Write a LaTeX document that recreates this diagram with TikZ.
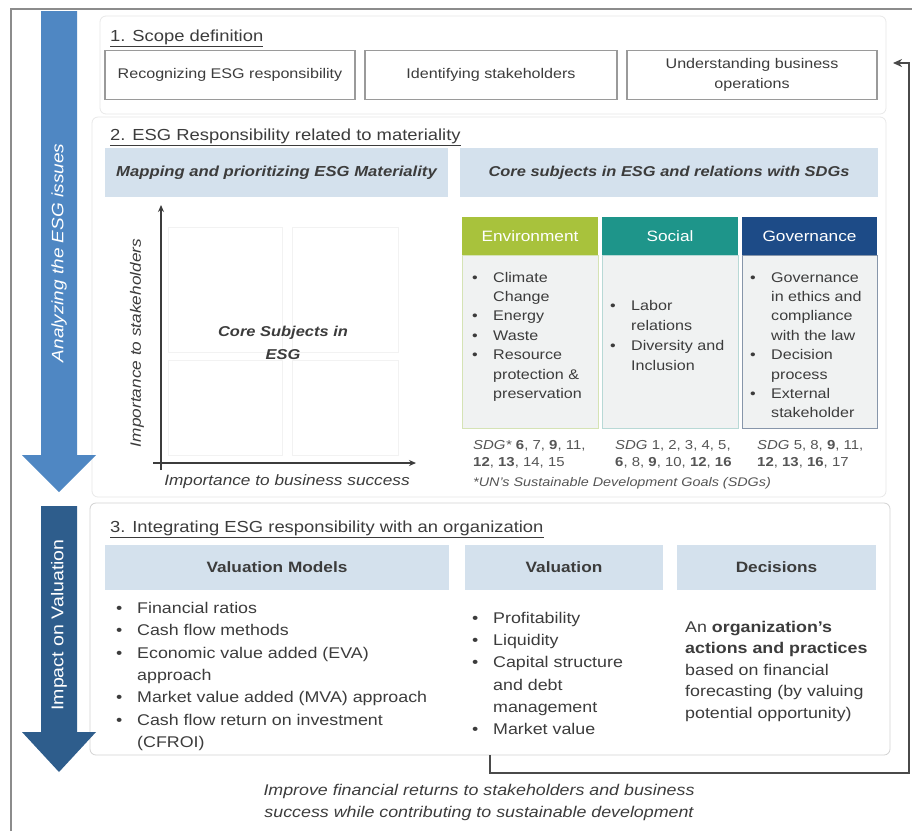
\documentclass[tikz,border=0pt]{standalone}
\usepackage{fontspec}
\setmainfont{Liberation Sans}[FakeStretch=1.15]
\usetikzlibrary{arrows.meta}
\definecolor{txt}{HTML}{3C3C3C}
\definecolor{sdgtxt}{HTML}{555555}
\definecolor{hdrblue}{HTML}{D4E1ED}
\definecolor{arrowA}{HTML}{4F87C3}
\definecolor{arrowB}{HTML}{2E5D8C}
\definecolor{envc}{HTML}{A8C23C}
\definecolor{socc}{HTML}{1E958A}
\definecolor{govc}{HTML}{1D4B87}
\definecolor{colfill}{HTML}{F0F2F2}
\definecolor{envborder}{HTML}{D5E3B5}
\definecolor{socborder}{HTML}{B8D9D6}
\definecolor{govborder}{HTML}{8796AA}
\definecolor{panelgray}{HTML}{E8E8E8}
\definecolor{panelgrayB}{HTML}{D2D2D2}
\definecolor{framegray}{HTML}{8C8C8C}
\definecolor{boxgray}{HTML}{9A9A9A}
\definecolor{conngray}{HTML}{4A4A4A}
\definecolor{quadgray}{HTML}{F2F2F2}
\newcommand{\bul}{\makebox[21pt][l]{\textbullet}}
\newcommand{\ind}{\hspace*{21pt}}
\tikzset{
  frameline/.style={draw=framegray, line width=1.6pt},
  panel/.style={draw=panelgray, line width=0.8pt, rounded corners=6pt, fill=white, inner sep=0pt},
  scopebox/.style={draw=boxgray, line width=1.2pt, fill=white, minimum height=49pt, inner sep=0pt,
    font=\fontsize{14}{20}\selectfont, text=txt, align=center},
  hdr/.style={fill=hdrblue, inner sep=0pt, text=txt},
  colhdr/.style={minimum width=136pt, minimum height=38pt, inner sep=0pt, text=white,
    font=\fontsize{15}{18}\selectfont},
  colbody/.style={fill=colfill, minimum width=136pt, minimum height=173pt, inner sep=0pt, line width=1pt},
  lst/.style={inner sep=0pt, text=txt, anchor=base west},
  ttl/.style={inner sep=0pt, text=txt, anchor=base west, font=\fontsize{16}{19}\selectfont},
  axisline/.style={draw=txt, line width=1.5pt, -{Stealth[length=7pt,width=6pt]}},
  quad/.style={draw=quadgray, line width=0.8pt},
  conn/.style={draw=conngray, line width=1.6pt, -{Stealth[length=9pt,width=8pt]}},
  arrtxt/.style={inner sep=0pt, text=white, rotate=90}
}
\begin{document}
\begin{tikzpicture}[x=1pt,y=-1pt]
\useasboundingbox (0,0) rectangle (912,831);
\fill[white] (0,0) rectangle (912,831);

% outer frame
\draw[frameline] (11,831) -- (11,9) -- (912,9);

% panels
\node[panel, minimum width=786pt, minimum height=98pt] (p1) at (493,65) {};
\node[panel, minimum width=794pt, minimum height=380pt] (p2) at (489,307) {};
\node[panel, draw=panelgrayB, minimum width=800pt, minimum height=252pt] (p3) at (490,629) {};

% left arrows
\fill[arrowA] (41,11) -- (77,11) -- (77,455) -- (96,455) -- (59,492) -- (22,455) -- (41,455) -- cycle;
\node[arrtxt, font=\fontsize{16.5}{19}\selectfont\itshape] (arA) at (59,253) {Analyzing the ESG issues};
\fill[arrowB] (41,506) -- (77,506) -- (77,732) -- (96,732) -- (59,772) -- (22,732) -- (41,732) -- cycle;
\node[arrtxt, font=\fontsize{17}{19}\selectfont] (arB) at (59,625) {Impact on Valuation};

% section 1
\node[ttl] (t1) at (110,41) {\underline{1. Scope definition}};
\node[scopebox, minimum width=250pt] (s1) at (230,75) {Recognizing ESG responsibility};
\node[scopebox, minimum width=252pt] (s2) at (491,75) {Identifying stakeholders};
\node[scopebox, minimum width=250pt] (s3) at (752,75) {Understanding business\\operations};

% section 2
\node[ttl] (t2) at (110,140) {\underline{2. ESG Responsibility related to materiality}};
\node[hdr, minimum width=343pt, minimum height=49pt, font=\fontsize{14.5}{17}\selectfont\bfseries\itshape] (h2a) at (276.5,172.5) {Mapping and prioritizing ESG Materiality};
\node[hdr, minimum width=418pt, minimum height=49pt, font=\fontsize{14.3}{17}\selectfont\bfseries\itshape] (h2b) at (669,172.5) {Core subjects in ESG and relations with SDGs};

% materiality chart
\draw[quad] (168,227) rectangle (282,352);
\draw[quad] (292,227) rectangle (398,352);
\draw[quad] (168,360) rectangle (282,455);
\draw[quad] (292,360) rectangle (398,455);
\coordinate (yb) at (161,470);
\coordinate (yt) at (161,205);
\coordinate (xl) at (153,463);
\coordinate (xr) at (416,463);
\draw[axisline] (yb) -- (yt);
\draw[axisline] (xl) -- (xr);
\node[inner sep=0pt, text=txt, rotate=90, font=\fontsize{15}{18}\selectfont\itshape] (ylab) at (137,343) {Importance to stakeholders};
\node[inner sep=0pt, text=txt, font=\fontsize{15}{18}\selectfont\itshape] (xlab) at (287,482) {Importance to business success};
\node[inner sep=0pt, text=txt, align=center, font=\fontsize{14.3}{23}\selectfont\bfseries\itshape] (core) at (283,343) {Core Subjects in\\ESG};

% ESG columns
\node[colhdr, fill=envc] (envh) at (530,236) {Environment};
\node[colhdr, fill=socc] (soch) at (670,236) {Social};
\node[colhdr, fill=govc, minimum width=135pt] (govh) at (809.5,236) {Governance};
\node[colbody, draw=envborder] (envb) at (530,341.5) {};
\node[colbody, draw=socborder] (socb) at (670,341.5) {};
\node[colbody, draw=govborder, minimum width=135pt] (govb) at (809.5,341.5) {};

\node[lst, font=\fontsize{14}{19.4}\selectfont] (envl) at (472,282) {\begin{tabular}[t]{@{}l@{}}\bul Climate\\\ind Change\\\bul Energy\\\bul Waste\\\bul Resource\\\ind protection \&\\\ind preservation\end{tabular}};
\node[lst, font=\fontsize{14}{20}\selectfont] (socl) at (610,310) {\begin{tabular}[t]{@{}l@{}}\bul Labor\\\ind relations\\\bul Diversity and\\\ind Inclusion\end{tabular}};
\node[lst, font=\fontsize{14}{19.4}\selectfont] (govl) at (750,282) {\begin{tabular}[t]{@{}l@{}}\bul Governance\\\ind in ethics and\\\ind compliance\\\ind with the law\\\bul Decision\\\ind process\\\bul External\\\ind stakeholder\end{tabular}};

% SDG lines
\node[lst, text=sdgtxt, font=\fontsize{13}{17}\selectfont] (sdg1) at (473,449.5) {\begin{tabular}[t]{@{}l@{}}\textit{SDG*} \textbf{6}, 7, \textbf{9}, 11,\\\textbf{12}, \textbf{13}, 14, 15\end{tabular}};
\node[lst, text=sdgtxt, font=\fontsize{13}{17}\selectfont] (sdg2) at (615,449.5) {\begin{tabular}[t]{@{}l@{}}\textit{SDG} 1, 2, 3, 4, 5,\\\textbf{6}, 8, \textbf{9}, 10, \textbf{12}, \textbf{16}\end{tabular}};
\node[lst, text=sdgtxt, font=\fontsize{13}{17}\selectfont] (sdg3) at (757,449.5) {\begin{tabular}[t]{@{}l@{}}\textit{SDG} 5, 8, \textbf{9}, 11,\\\textbf{12}, \textbf{13}, \textbf{16}, 17\end{tabular}};
\node[lst, text=sdgtxt, font=\fontsize{12.5}{15}\selectfont\itshape] (sdgn) at (473,486) {*UN's Sustainable Development Goals (SDGs)};

% section 3
\node[ttl] (t3) at (110,532) {\underline{3. Integrating ESG responsibility with an organization}};
\node[hdr, minimum width=344pt, minimum height=45pt, font=\fontsize{15}{18}\selectfont\bfseries] (h3a) at (277,567.5) {Valuation Models};
\node[hdr, minimum width=198pt, minimum height=45pt, font=\fontsize{15}{18}\selectfont\bfseries] (h3b) at (564,567.5) {Valuation};
\node[hdr, minimum width=199pt, minimum height=45pt, font=\fontsize{15}{18}\selectfont\bfseries] (h3c) at (776.5,567.5) {Decisions};

\node[lst, font=\fontsize{15.5}{22.3}\selectfont] (vml) at (116,613.5) {\begin{tabular}[t]{@{}l@{}}\bul Financial ratios\\\bul Cash flow methods\\\bul Economic value added (EVA)\\\ind approach\\\bul Market value added (MVA) approach\\\bul Cash flow return on investment\\\ind (CFROI)\end{tabular}};
\node[lst, font=\fontsize{15.5}{22.2}\selectfont] (val) at (472,623.5) {\begin{tabular}[t]{@{}l@{}}\bul Profitability\\\bul Liquidity\\\bul Capital structure\\\ind and debt\\\ind management\\\bul Market value\end{tabular}};
\node[lst, font=\fontsize{15.5}{21.5}\selectfont] (dec) at (685,632) {\begin{tabular}[t]{@{}l@{}}An \textbf{organization's}\\\textbf{actions and practices}\\based on financial\\forecasting (by valuing\\potential opportunity)\end{tabular}};

% feedback connector
\coordinate (cc) at (909,773);
\coordinate (ct) at (893,63);
\draw[conn] (p3.south -| 490,0) |- (cc) |- (ct);

% bottom text
\node[inner sep=0pt, text=txt, anchor=base, font=\fontsize{15.5}{22}\selectfont\itshape] (bot) at (479,795) {\begin{tabular}[t]{@{}c@{}}Improve financial returns to stakeholders and business\\success while contributing to sustainable development\end{tabular}};
\end{tikzpicture}
\end{document}
